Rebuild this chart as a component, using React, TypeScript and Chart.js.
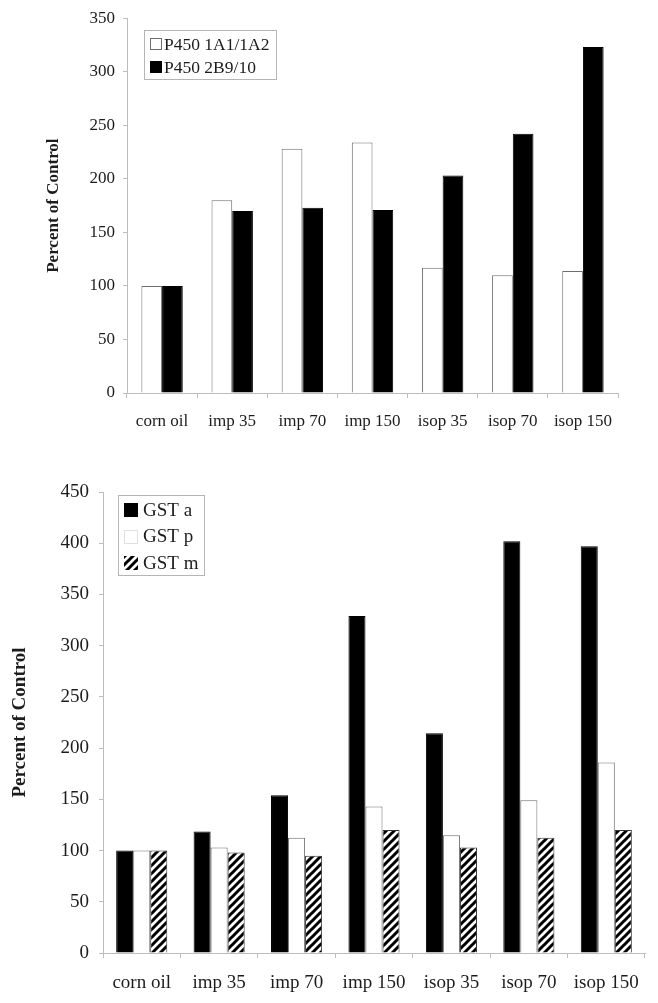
import React, { useEffect, useRef } from "react";
import { Chart, registerables } from "chart.js";

Chart.register(...registerables);

// ---------- data ----------
const categories = ["corn oil", "imp 35", "imp 70", "imp 150", "isop 35", "isop 70", "isop 150"];

const p450_1A1_1A2 = [100, 180, 228, 234, 117, 110, 114];
const p450_2B9_10 = [100, 170, 173, 171, 203, 242, 323];
const topYMax = 350;
const topYStep = 50;

const gstA = [100, 118.5, 154, 329, 214.5, 402, 397];
const gstP = [100, 103, 112.5, 143, 115, 149, 186];
const gstM = [100, 98, 95, 120, 103, 112.5, 120];
const bottomYMax = 450;
const bottomYStep = 50;

const yTitle = "Percent of Control";

// ---------- helpers ----------
const SERIF = "'Liberation Serif', 'Times New Roman', serif";
const AXIS_GRAY = "#bdbdbd";
const TEXT = "#1c1c1c";

function makeHatch(): CanvasPattern | string {
  const c = document.createElement("canvas");
  const s = 8;
  c.width = s;
  c.height = s;
  const g = c.getContext("2d");
  if (!g) return "#888";
  g.fillStyle = "#ffffff";
  g.fillRect(0, 0, s, s);
  g.strokeStyle = "#000000";
  g.lineWidth = 3;
  g.lineCap = "square";
  g.beginPath();
  g.moveTo(-2, s + 2);
  g.lineTo(s + 2, -2);
  g.moveTo(-s / 2 - 2, s / 2 + 2);
  g.lineTo(s / 2 + 2, -s / 2 - 2);
  g.moveTo(s / 2 - 2, s * 1.5 + 2);
  g.lineTo(s * 1.5 + 2, s / 2 - 2);
  g.stroke();
  const p = g.createPattern(c, "repeat");
  return p || "#888";
}

const boxLegend = {
  id: "boxLegend",
  afterDraw(chart: any, _args: any, opts: any) {
    const { ctx, chartArea } = chart;
    const x0 = Math.round(chartArea.left + opts.dx);
    const y0 = Math.round(chartArea.top + opts.dy);
    ctx.save();
    ctx.fillStyle = "#ffffff";
    ctx.fillRect(x0, y0, opts.w, opts.h);
    ctx.strokeStyle = "#b5b5b5";
    ctx.lineWidth = 1;
    ctx.strokeRect(x0 + 0.5, y0 + 0.5, opts.w, opts.h);
    ctx.font = `${opts.fontSize}px ${SERIF}`;
    ctx.textBaseline = "middle";
    ctx.textAlign = "left";
    chart.data.datasets.forEach((ds: any, i: number) => {
      const cy = y0 + opts.firstRow + i * opts.rowGap;
      const sx = x0 + opts.swatchX;
      const sy = Math.round(cy - opts.swatch / 2);
      ctx.fillStyle = ds.backgroundColor;
      ctx.fillRect(sx, sy, opts.swatch, opts.swatch);
      if (ds.legendBorder) {
        ctx.strokeStyle = ds.legendBorder;
        ctx.lineWidth = 1;
        ctx.strokeRect(sx + 0.5, sy + 0.5, opts.swatch - 1, opts.swatch - 1);
      }
      ctx.fillStyle = TEXT;
      ctx.fillText(ds.label, x0 + opts.textX, cy + 1);
    });
    ctx.restore();
  },
};

function buildOptions(cfg: {
  yMax: number;
  yStep: number;
  fontSize: number;
  titleSize: number;
  titlePad: number;
  yWidth: number;
  xHeight: number;
  padTop: number;
  padRight: number;
  yTickPad: number;
  xTickPad: number;
  catPct: number;
  legend: any;
}) {
  return {
    responsive: false,
    animation: false as const,
    devicePixelRatio: 1,
    layout: { padding: { left: 0, right: cfg.padRight, top: cfg.padTop, bottom: 0 } },
    datasets: { bar: { categoryPercentage: cfg.catPct, barPercentage: 1 } },
    plugins: {
      legend: { display: false },
      tooltip: { enabled: false },
      boxLegend: cfg.legend,
    },
    scales: {
      x: {
        offset: true,
        grid: {
          display: true,
          offset: true,
          drawOnChartArea: false,
          drawTicks: true,
          tickLength: 5,
          color: AXIS_GRAY,
        },
        border: { display: true, color: AXIS_GRAY, width: 1 },
        ticks: {
          color: TEXT,
          font: { family: SERIF, size: cfg.fontSize },
          padding: cfg.xTickPad,
          maxRotation: 0,
          autoSkip: false,
        },
        afterFit(scale: any) {
          scale.height = cfg.xHeight;
        },
      },
      y: {
        min: 0,
        max: cfg.yMax,
        grid: {
          display: true,
          drawOnChartArea: false,
          drawTicks: true,
          tickLength: 4,
          color: AXIS_GRAY,
        },
        border: { display: true, color: AXIS_GRAY, width: 1 },
        ticks: {
          stepSize: cfg.yStep,
          color: TEXT,
          font: { family: SERIF, size: cfg.fontSize },
          padding: cfg.yTickPad,
        },
        title: {
          display: true,
          text: yTitle,
          color: TEXT,
          font: { family: SERIF, size: cfg.titleSize, weight: "bold", lineHeight: 1 },
          padding: { top: cfg.titlePad, bottom: 0 },
        },
        afterFit(scale: any) {
          scale.width = cfg.yWidth;
        },
      },
    },
  };
}

function TopChart() {
  const ref = useRef<HTMLCanvasElement | null>(null);
  useEffect(() => {
    if (!ref.current) return;
    const chart = new Chart(ref.current, {
      type: "bar",
      data: {
        labels: categories,
        datasets: [
          {
            label: "P450 1A1/1A2",
            data: p450_1A1_1A2,
            backgroundColor: "#ffffff",
            borderColor: "#6e6e6e",
            borderWidth: 1,
            legendBorder: "#6e6e6e",
          } as any,
          {
            label: "P450 2B9/10",
            data: p450_2B9_10,
            backgroundColor: "#000000",
            borderColor: "#000000",
            borderWidth: 1,
          } as any,
        ],
      },
      options: buildOptions({
        yMax: topYMax,
        yStep: topYStep,
        fontSize: 17,
        titleSize: 17,
        titlePad: 45,
        yWidth: 127,
        xHeight: 62,
        padTop: 15,
        padRight: 40,
        yTickPad: 8,
        xTickPad: 13,
        catPct: 0.59,
        legend: {
          dx: 17,
          dy: 12,
          w: 132,
          h: 49,
          swatch: 12,
          swatchX: 6,
          textX: 20,
          firstRow: 14,
          rowGap: 23,
          fontSize: 17.5,
        },
      }) as any,
      plugins: [boxLegend],
    });
    return () => chart.destroy();
  }, []);
  return (
    <canvas
      ref={ref}
      width={658}
      height={455}
      style={{ position: "absolute", left: 0, top: 0, width: 658, height: 455 }}
    />
  );
}

function BottomChart() {
  const ref = useRef<HTMLCanvasElement | null>(null);
  useEffect(() => {
    if (!ref.current) return;
    const hatch = makeHatch();
    const chart = new Chart(ref.current, {
      type: "bar",
      data: {
        labels: categories,
        datasets: [
          {
            label: "GST a",
            data: gstA,
            backgroundColor: "#000000",
            borderColor: "#000000",
            borderWidth: 1,
          } as any,
          {
            label: "GST p",
            data: gstP,
            backgroundColor: "#ffffff",
            borderColor: "#6e6e6e",
            borderWidth: 1,
            legendBorder: "#e0e0e0",
          } as any,
          {
            label: "GST m",
            data: gstM,
            backgroundColor: hatch,
            borderColor: "#333333",
            borderWidth: 1,
          } as any,
        ],
      },
      options: buildOptions({
        yMax: bottomYMax,
        yStep: bottomYStep,
        fontSize: 19,
        titleSize: 19,
        titlePad: 11,
        yWidth: 103,
        xHeight: 50,
        padTop: 27,
        padRight: 13,
        yTickPad: 10,
        xTickPad: 14,
        catPct: 0.66,
        legend: {
          dx: 15,
          dy: 3,
          w: 86,
          h: 80,
          swatch: 14,
          swatchX: 6,
          textX: 25,
          firstRow: 15,
          rowGap: 26.5,
          fontSize: 19,
        },
      }) as any,
      plugins: [boxLegend],
    });
    return () => chart.destroy();
  }, []);
  return (
    <canvas
      ref={ref}
      width={658}
      height={538}
      style={{ position: "absolute", left: 0, top: 465, width: 658, height: 538 }}
    />
  );
}

export default function App() {
  return (
    <div style={{ position: "absolute", left: 0, top: 0, width: 658, height: 1003 }}>
      <TopChart />
      <BottomChart />
    </div>
  );
}
